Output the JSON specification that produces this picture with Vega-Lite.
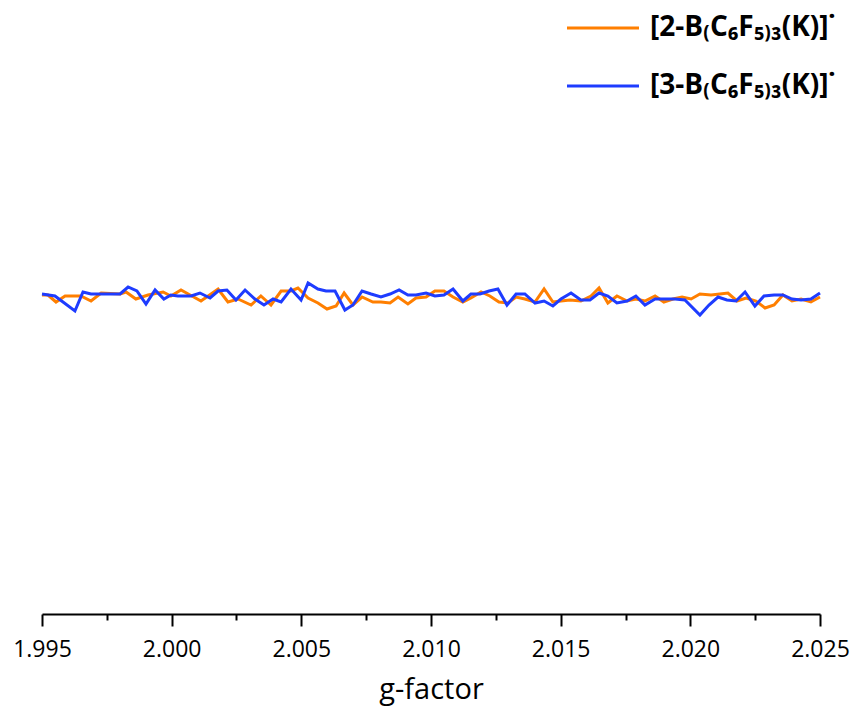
{
  "$schema": "https://vega.github.io/schema/vega-lite/v6.json",
  "width": 778,
  "height": 600,
  "autosize": {"type": "none"},
  "padding": {"left": 42, "top": 14, "right": 36, "bottom": 92},
  "background": "white",
  "config": {"view": {"stroke": null}},
  "data": {"values": [
    {"g":1.99500,"i":-0.01,"s":"2-B"},{"g":1.99523,"i":-0.01,"s":"2-B"},{"g":1.99554,"i":-0.08,"s":"2-B"},{"g":1.99589,"i":-0.02,"s":"2-B"},{"g":1.99650,"i":-0.02,"s":"2-B"},{"g":1.99689,"i":-0.07,"s":"2-B"},{"g":1.99728,"i":0.01,"s":"2-B"},{"g":1.99801,"i":0.0,"s":"2-B"},{"g":1.99824,"i":0.02,"s":"2-B"},{"g":1.99862,"i":-0.05,"s":"2-B"},{"g":1.99909,"i":-0.01,"s":"2-B"},{"g":1.99967,"i":0.02,"s":"2-B"},{"g":1.99997,"i":-0.02,"s":"2-B"},{"g":2.00036,"i":0.04,"s":"2-B"},{"g":2.00071,"i":-0.01,"s":"2-B"},{"g":2.00113,"i":-0.07,"s":"2-B"},{"g":2.00179,"i":0.05,"s":"2-B"},{"g":2.00217,"i":-0.08,"s":"2-B"},{"g":2.00256,"i":-0.05,"s":"2-B"},{"g":2.00306,"i":-0.11,"s":"2-B"},{"g":2.00344,"i":-0.02,"s":"2-B"},{"g":2.00383,"i":-0.11,"s":"2-B"},{"g":2.00422,"i":0.03,"s":"2-B"},{"g":2.00460,"i":0.03,"s":"2-B"},{"g":2.00487,"i":0.06,"s":"2-B"},{"g":2.00526,"i":-0.04,"s":"2-B"},{"g":2.00564,"i":-0.09,"s":"2-B"},{"g":2.00599,"i":-0.15,"s":"2-B"},{"g":2.00634,"i":-0.12,"s":"2-B"},{"g":2.00665,"i":0.01,"s":"2-B"},{"g":2.00699,"i":-0.11,"s":"2-B"},{"g":2.00734,"i":-0.03,"s":"2-B"},{"g":2.00776,"i":-0.08,"s":"2-B"},{"g":2.00807,"i":-0.08,"s":"2-B"},{"g":2.00842,"i":-0.09,"s":"2-B"},{"g":2.00873,"i":-0.03,"s":"2-B"},{"g":2.00911,"i":-0.10,"s":"2-B"},{"g":2.00942,"i":-0.04,"s":"2-B"},{"g":2.00981,"i":-0.03,"s":"2-B"},{"g":2.01015,"i":0.03,"s":"2-B"},{"g":2.01050,"i":0.03,"s":"2-B"},{"g":2.01085,"i":-0.03,"s":"2-B"},{"g":2.01123,"i":-0.08,"s":"2-B"},{"g":2.01154,"i":-0.04,"s":"2-B"},{"g":2.01193,"i":0.02,"s":"2-B"},{"g":2.01227,"i":-0.02,"s":"2-B"},{"g":2.01262,"i":-0.08,"s":"2-B"},{"g":2.01297,"i":-0.09,"s":"2-B"},{"g":2.01328,"i":-0.03,"s":"2-B"},{"g":2.01362,"i":-0.05,"s":"2-B"},{"g":2.01401,"i":-0.08,"s":"2-B"},{"g":2.01436,"i":0.05,"s":"2-B"},{"g":2.01470,"i":-0.08,"s":"2-B"},{"g":2.01501,"i":-0.07,"s":"2-B"},{"g":2.01536,"i":-0.06,"s":"2-B"},{"g":2.01578,"i":-0.07,"s":"2-B"},{"g":2.01617,"i":-0.02,"s":"2-B"},{"g":2.01648,"i":0.06,"s":"2-B"},{"g":2.01682,"i":-0.09,"s":"2-B"},{"g":2.01717,"i":-0.02,"s":"2-B"},{"g":2.01756,"i":-0.07,"s":"2-B"},{"g":2.01790,"i":-0.05,"s":"2-B"},{"g":2.01825,"i":-0.07,"s":"2-B"},{"g":2.01864,"i":-0.02,"s":"2-B"},{"g":2.01898,"i":-0.08,"s":"2-B"},{"g":2.01933,"i":-0.05,"s":"2-B"},{"g":2.01968,"i":-0.03,"s":"2-B"},{"g":2.02003,"i":-0.05,"s":"2-B"},{"g":2.02037,"i":0.0,"s":"2-B"},{"g":2.02080,"i":-0.01,"s":"2-B"},{"g":2.02114,"i":0.0,"s":"2-B"},{"g":2.02145,"i":0.01,"s":"2-B"},{"g":2.02180,"i":-0.07,"s":"2-B"},{"g":2.02215,"i":-0.04,"s":"2-B"},{"g":2.02253,"i":-0.07,"s":"2-B"},{"g":2.02288,"i":-0.14,"s":"2-B"},{"g":2.02323,"i":-0.11,"s":"2-B"},{"g":2.02357,"i":-0.01,"s":"2-B"},{"g":2.02392,"i":-0.07,"s":"2-B"},{"g":2.02427,"i":-0.05,"s":"2-B"},{"g":2.02465,"i":-0.08,"s":"2-B"},{"g":2.02500,"i":-0.03,"s":"2-B"},
    {"g":1.99500,"i":0.0,"s":"3-B"},{"g":1.99550,"i":-0.02,"s":"3-B"},{"g":1.99627,"i":-0.17,"s":"3-B"},{"g":1.99658,"i":0.02,"s":"3-B"},{"g":1.99689,"i":0.0,"s":"3-B"},{"g":1.99801,"i":0.0,"s":"3-B"},{"g":1.99832,"i":0.07,"s":"3-B"},{"g":1.99866,"i":0.03,"s":"3-B"},{"g":1.99901,"i":-0.10,"s":"3-B"},{"g":1.99936,"i":0.04,"s":"3-B"},{"g":1.99970,"i":-0.05,"s":"3-B"},{"g":1.99997,"i":-0.01,"s":"3-B"},{"g":2.00024,"i":-0.02,"s":"3-B"},{"g":2.00075,"i":-0.02,"s":"3-B"},{"g":2.00109,"i":0.01,"s":"3-B"},{"g":2.00148,"i":-0.04,"s":"3-B"},{"g":2.00179,"i":0.03,"s":"3-B"},{"g":2.00213,"i":0.04,"s":"3-B"},{"g":2.00248,"i":-0.06,"s":"3-B"},{"g":2.00283,"i":0.04,"s":"3-B"},{"g":2.00321,"i":-0.05,"s":"3-B"},{"g":2.00356,"i":-0.11,"s":"3-B"},{"g":2.00391,"i":-0.05,"s":"3-B"},{"g":2.00422,"i":-0.08,"s":"3-B"},{"g":2.00460,"i":0.05,"s":"3-B"},{"g":2.00499,"i":-0.06,"s":"3-B"},{"g":2.00526,"i":0.11,"s":"3-B"},{"g":2.00564,"i":0.05,"s":"3-B"},{"g":2.00595,"i":0.03,"s":"3-B"},{"g":2.00630,"i":0.03,"s":"3-B"},{"g":2.00668,"i":-0.16,"s":"3-B"},{"g":2.00699,"i":-0.11,"s":"3-B"},{"g":2.00734,"i":0.03,"s":"3-B"},{"g":2.00769,"i":0.0,"s":"3-B"},{"g":2.00807,"i":-0.03,"s":"3-B"},{"g":2.00842,"i":0.0,"s":"3-B"},{"g":2.00877,"i":0.04,"s":"3-B"},{"g":2.00911,"i":-0.01,"s":"3-B"},{"g":2.00942,"i":-0.01,"s":"3-B"},{"g":2.00981,"i":0.01,"s":"3-B"},{"g":2.01015,"i":-0.02,"s":"3-B"},{"g":2.01050,"i":-0.01,"s":"3-B"},{"g":2.01085,"i":0.05,"s":"3-B"},{"g":2.01123,"i":-0.07,"s":"3-B"},{"g":2.01154,"i":0.0,"s":"3-B"},{"g":2.01189,"i":0.0,"s":"3-B"},{"g":2.01224,"i":0.03,"s":"3-B"},{"g":2.01258,"i":0.05,"s":"3-B"},{"g":2.01293,"i":-0.11,"s":"3-B"},{"g":2.01328,"i":0.0,"s":"3-B"},{"g":2.01362,"i":0.0,"s":"3-B"},{"g":2.01401,"i":-0.09,"s":"3-B"},{"g":2.01436,"i":-0.07,"s":"3-B"},{"g":2.01470,"i":-0.12,"s":"3-B"},{"g":2.01501,"i":-0.05,"s":"3-B"},{"g":2.01540,"i":0.01,"s":"3-B"},{"g":2.01578,"i":-0.06,"s":"3-B"},{"g":2.01613,"i":-0.06,"s":"3-B"},{"g":2.01648,"i":0.01,"s":"3-B"},{"g":2.01682,"i":-0.02,"s":"3-B"},{"g":2.01717,"i":-0.09,"s":"3-B"},{"g":2.01756,"i":-0.07,"s":"3-B"},{"g":2.01790,"i":-0.02,"s":"3-B"},{"g":2.01825,"i":-0.11,"s":"3-B"},{"g":2.01864,"i":-0.05,"s":"3-B"},{"g":2.01902,"i":-0.05,"s":"3-B"},{"g":2.01941,"i":-0.05,"s":"3-B"},{"g":2.01979,"i":-0.06,"s":"3-B"},{"g":2.02037,"i":-0.21,"s":"3-B"},{"g":2.02072,"i":-0.11,"s":"3-B"},{"g":2.02107,"i":-0.03,"s":"3-B"},{"g":2.02141,"i":-0.06,"s":"3-B"},{"g":2.02176,"i":-0.07,"s":"3-B"},{"g":2.02211,"i":0.02,"s":"3-B"},{"g":2.02249,"i":-0.12,"s":"3-B"},{"g":2.02284,"i":-0.02,"s":"3-B"},{"g":2.02323,"i":-0.01,"s":"3-B"},{"g":2.02357,"i":-0.01,"s":"3-B"},{"g":2.02392,"i":-0.05,"s":"3-B"},{"g":2.02427,"i":-0.06,"s":"3-B"},{"g":2.02465,"i":-0.05,"s":"3-B"},{"g":2.02500,"i":0.01,"s":"3-B"}
  ]},
  "mark": {"type": "line", "strokeWidth": 3, "strokeJoin": "miter"},
  "encoding": {
    "x": {
      "field": "g", "type": "quantitative",
      "scale": {"domain": [1.995, 2.025], "nice": false, "zero": false},
      "axis": {
        "title": "g-factor",
        "values": [1.995, 1.9975, 2.0, 2.0025, 2.005, 2.0075, 2.01, 2.0125, 2.015, 2.0175, 2.02, 2.0225, 2.025],
        "labelExpr": "round(datum.value*1000) % 5 == 0 ? format(datum.value, '.3f') : ''",
        "labelOverlap": false,
        "labelFlush": false,
        "labelBound": false,
        "grid": false,
        "domainColor": "black", "domainWidth": 2,
        "tickColor": "black", "tickWidth": 2,
        "tickSize": {"condition": {"test": "round(datum.value*1000) % 5 == 0", "value": 12}, "value": 6},
        "labelFont": "Open Sans", "labelFontSize": 23, "labelColor": "black", "labelPadding": 12,
        "titleFont": "Open Sans", "titleFontSize": 29, "titleFontWeight": "normal", "titleColor": "black", "titlePadding": 14
      }
    },
    "y": {
      "field": "i", "type": "quantitative",
      "scale": {"domain": [-3.2, 2.8], "nice": false, "zero": false},
      "axis": null
    },
    "color": {
      "field": "s", "type": "nominal",
      "scale": {"domain": ["2-B", "3-B"], "range": ["#FF7F00", "#1E3CFF"]},
      "legend": {
        "title": null,
        "orient": "none",
        "legendX": 547,
        "legendY": 0,
        "symbolType": "M-3,0H3",
        "symbolSize": 576,
        "symbolStrokeWidth": 3,
        "labelOffset": 33,
        "rowPadding": 30,
        "labelFont": "Open Sans",
        "labelFontWeight": "bold",
        "labelFontSize": 28,
        "labelColor": "black",
        "labelLimit": 400,
        "labelExpr": "datum.label == '2-B' ? '[2-B₍C₆F₅₎₃(K)]˙' : '[3-B₍C₆F₅₎₃(K)]˙'"
      }
    }
  }
}
